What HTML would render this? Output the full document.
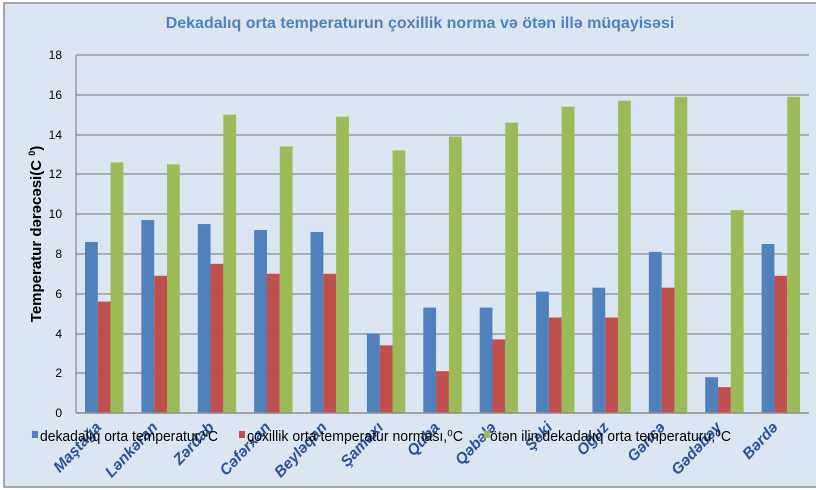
<!DOCTYPE html>
<html><head><meta charset="utf-8"><style>
html,body{margin:0;padding:0;background:#fff;}
svg{display:block;font-family:"Liberation Sans",sans-serif;}
</style></head><body>
<svg width="816" height="490" viewBox="0 0 816 490">
<rect x="4" y="3" width="820" height="484" fill="#dce6f2" stroke="#8c8c8c" stroke-width="1.5"/>
<text x="420" y="28" text-anchor="middle" font-size="16" font-weight="bold" fill="#4f81bd">Dekadalıq orta temperaturun çoxillik norma və ötən illə müqayisəsi</text>
<g stroke="#8c8c8c" stroke-width="1.2">
<line x1="76" y1="55" x2="809" y2="55"/><line x1="76" y1="95" x2="809" y2="95"/><line x1="76" y1="135" x2="809" y2="135"/><line x1="76" y1="174" x2="809" y2="174"/><line x1="76" y1="214" x2="809" y2="214"/><line x1="76" y1="254" x2="809" y2="254"/><line x1="76" y1="294" x2="809" y2="294"/><line x1="76" y1="334" x2="809" y2="334"/><line x1="76" y1="373" x2="809" y2="373"/>
</g>
<g font-size="12" fill="#000" text-anchor="end">
<text x="62" y="59">18</text><text x="62" y="99">16</text><text x="62" y="139">14</text><text x="62" y="178">12</text><text x="62" y="218">10</text><text x="62" y="258">8</text><text x="62" y="298">6</text><text x="62" y="338">4</text><text x="62" y="377">2</text><text x="62" y="417">0</text>
</g>
<text transform="translate(41,234) rotate(-90)" text-anchor="middle" font-size="15" font-weight="bold">Temperatur dərəcəsi(C <tspan font-size="9" dy="-6">0</tspan><tspan dy="6">)</tspan></text>
<g id="bars"></g>
<line x1="76" y1="55" x2="76" y2="413" stroke="#8c8c8c" stroke-width="1.2"/>
<line x1="76" y1="413" x2="809" y2="413" stroke="#8c8c8c" stroke-width="1.5"/>
<g id="labels" font-size="15.5" font-weight="bold" font-style="italic" fill="#2a5298" text-anchor="end"></g>
<g font-size="15" fill="#000">
<rect x="32" y="431" width="6" height="7" fill="#4f81bd"/><text x="40" y="441" textLength="178" lengthAdjust="spacingAndGlyphs">dekadalıq orta temperatur,⁰C</text>
<rect x="239" y="431" width="6" height="7" fill="#c0504d"/><text x="247" y="441" textLength="216" lengthAdjust="spacingAndGlyphs">çoxillik orta temperatur norması,⁰C</text>
<rect x="484" y="431" width="6" height="7" fill="#9bbb59"/><text x="490" y="441" textLength="241" lengthAdjust="spacingAndGlyphs">ötən ilin dekadalıq orta temperaturu,⁰C</text>
</g>
<script>
var b=[8.6,9.7,9.5,9.2,9.1,4.0,5.3,5.3,6.1,6.3,8.1,1.8,8.5];
var r=[5.6,6.9,7.5,7.0,7.0,3.4,2.1,3.7,4.8,4.8,6.3,1.3,6.9];
var g=[12.6,12.5,15.0,13.4,14.9,13.2,13.9,14.6,15.4,15.7,15.9,10.2,15.9];
var n=["Maştağa","Lənkəran","Zərdab","Cəfərxan","Beyləqan","Şamaxı","Quba","Qəbələ","Şəki","Oğuz","Gəncə","Gədəbəy","Bərdə"];
var ns="http://www.w3.org/2000/svg",G=document.getElementById("bars"),L=document.getElementById("labels");
var cw=733/13,u=358/18;
function bar(x,v,c){var e=document.createElementNS(ns,"rect");e.setAttribute("x",x);e.setAttribute("width",12.8);e.setAttribute("y",413-v*u);e.setAttribute("height",v*u);e.setAttribute("fill",c);G.appendChild(e);}
for(var i=0;i<13;i++){var x=76+i*cw+9;bar(x,b[i],"#4f81bd");bar(x+12.8,r[i],"#c0504d");bar(x+25.6,g[i],"#9bbb59");
var t=document.createElementNS(ns,"text");var cx=76+i*cw+cw/2-2;t.setAttribute("transform","translate("+cx+",428) rotate(-47)");t.textContent=n[i];L.appendChild(t);}
</script>
</svg>
</body></html>
